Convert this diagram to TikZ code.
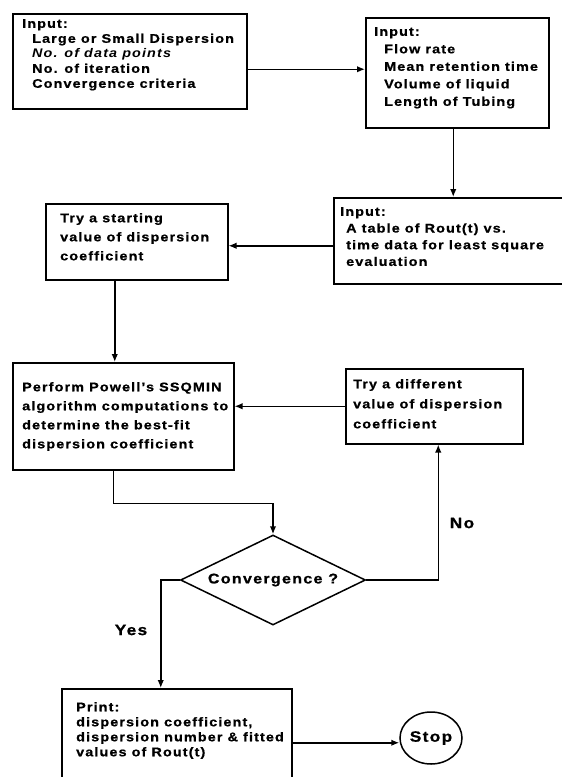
\documentclass[tikz,border=0pt]{standalone}
\usepackage{fontspec}
\setmainfont{Liberation Sans}[FakeStretch=1.15,LetterSpace=9,BoldFeatures={FakeBold=0.8}]
\usetikzlibrary{arrows.meta,shapes.geometric}

\tikzset{
  flowbox/.style={draw, line width=1.5pt, anchor=north west, inner sep=0pt},
  boxtext/.style={anchor=north west, align=left, inner sep=0pt, font=\bfseries\fontsize{12.5}{#1}\selectfont},
  boxtext/.default=17,
  flow/.style={line width=1.5pt, -{Latex[length=8pt,width=6.5pt]}},
  answer/.style={inner sep=0pt, font=\bfseries\fontsize{15}{18}\selectfont}
}

\begin{document}
\begin{tikzpicture}[x=1pt,y=-1pt]
\useasboundingbox (0,0) rectangle (562,777);
\clip (0,0) rectangle (562,777);

\node[flowbox, minimum width=234pt, minimum height=95pt] (inp1) at (12,13) {};
\node[boxtext=15] (inp1txt) at (22,19) {Input:\\
  \hspace*{10pt}Large or Small Dispersion\\
  \hspace*{10pt}\textit{No. of data points}\\
  \hspace*{10pt}No. of iteration\\
  \hspace*{10pt}Convergence criteria};

\node[flowbox, minimum width=183pt, minimum height=110pt] (inp2) at (365,17) {};
\node[boxtext=17.5] (inp2txt) at (374,27) {Input:\\
  \hspace*{10pt}Flow rate\\
  \hspace*{10pt}Mean retention time\\
  \hspace*{10pt}Volume of liquid\\
  \hspace*{10pt}Length of Tubing};

\node[flowbox, minimum width=245pt, minimum height=86pt] (inp3) at (333,197) {};
\node[boxtext=16.7] (inp3txt) at (340,207) {Input:\\
  \hspace*{6pt}A table of Rout(t) vs.\\
  \hspace*{6pt}time data for least square\\
  \hspace*{6pt}evaluation};

\node[flowbox, minimum width=182pt, minimum height=76pt] (start) at (45,203) {};
\node[boxtext=19] (starttxt) at (60,213) {Try a starting\\
  value of dispersion\\
  coefficient};

\node[flowbox, minimum width=221pt, minimum height=107pt] (powell) at (12,362) {};
\node[boxtext=19] (powelltxt) at (22,382) {Perform Powell's SSQMIN\\
  algorithm computations to\\
  determine the best-fit\\
  dispersion coefficient};

\node[flowbox, minimum width=177pt, minimum height=75pt] (retry) at (345,368) {};
\node[boxtext=20] (retrytxt) at (353,379) {Try a different\\
  value of dispersion\\
  coefficient};

\node[draw, diamond, shape aspect=2.05, line width=1.5pt, minimum width=185pt, minimum height=90pt,
  inner sep=0pt, font=\bfseries\fontsize{14}{16}\selectfont] (conv) at (273,580) {Convergence ?};

\node[flowbox, minimum width=230pt, minimum height=104pt] (result) at (61,688) {};
\node[boxtext=15] (resulttxt) at (76,702) {Print:\\
  dispersion coefficient,\\
  dispersion number \& fitted\\
  values of Rout(t)};

\node[draw, ellipse, line width=1.5pt, minimum width=62pt, minimum height=52pt, inner sep=0pt,
  font=\bfseries\fontsize{15}{18}\selectfont] (stop) at (431,738) {Stop};

\node[answer] (no) at (462,523) {No};
\node[answer] (yes) at (131,630) {Yes};

\draw[flow] ([yshift=-8pt]inp1.east) -- ([yshift=-8pt]inp1.east -| inp2.west);
\draw[flow] ([xshift=-4pt]inp2.south) -- ([xshift=-4pt]inp2.south |- inp3.north);
\draw[flow] ([yshift=-5pt]inp3.west) -- ([yshift=-5pt]inp3.west -| start.east);
\draw[flow] ([xshift=-22pt]start.south) -- ([xshift=-22pt]start.south |- powell.north);
\draw[flow] (retry.west) -- (retry.west -| powell.east);
\draw[flow] ([xshift=-10pt]powell.south) -- ++(0,33) -| (conv.north);
\draw[flow] (conv.east) -| ([xshift=4pt]retry.south);
\draw[flow] (conv.west) -| ([xshift=-16pt]result.north);
\draw[flow] ([yshift=-2pt]result.east) -- ([yshift=-2pt]result.east -| stop.west);
\end{tikzpicture}
\end{document}
